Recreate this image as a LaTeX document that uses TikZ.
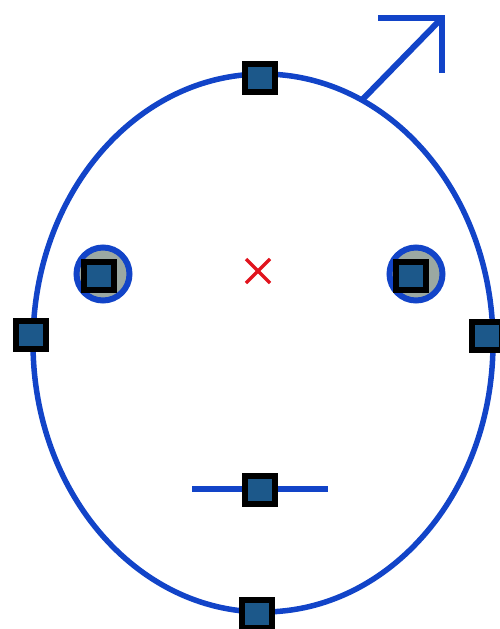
\documentclass[tikz,border=0pt]{standalone}
\usetikzlibrary{calc}
\begin{document}
\begin{tikzpicture}[x=1pt,y=-1pt,
  blueline/.style={draw=headblue,line width=5.5pt},
  marker/.style={rectangle,draw=black,fill=markfill,line width=6pt,minimum width=30pt,minimum height=28pt,inner sep=0pt},
  eyering/.style={circle,draw=headblue,fill=eyegrey,line width=6pt,minimum size=53pt,inner sep=0pt}]
\definecolor{headblue}{RGB}{18,68,200}
\definecolor{markfill}{RGB}{28,88,138}
\definecolor{eyegrey}{RGB}{155,168,162}
\definecolor{crossred}{RGB}{225,20,30}
\useasboundingbox (0,0) rectangle (499,629);
% head outline
\draw[blueline] (263,343) ellipse [x radius=230, y radius=269];
% male symbol
\coordinate (mstart) at (362,100);
\coordinate (mtip) at (442,18);
\coordinate (mleft) at (378,18);
\coordinate (mdown) at (442,73);
\draw[draw=headblue,line width=6pt] (mstart) -- (mtip);
\draw[draw=headblue,line width=6pt] (mleft) -- (mtip) -- (mdown);
% mouth
\coordinate (mouthL) at (192,489);
\coordinate (mouthR) at (328,489);
\draw[draw=headblue,line width=5.5pt] (mouthL) -- (mouthR);
% eyes
\node[eyering] (eyeL) at (103,274) {};
\node[eyering] (eyeR) at (416,274) {};
\node[marker] (eyeLm) at (99,276) {};
\node[marker] (eyeRm) at (411,276) {};
% markers on outline
\node[marker] (top) at (260,78) {};
\node[marker] (left) at (31,335) {};
\node[marker] (right) at (487,336) {};
\node[marker] (bottom) at (257,614) {};
\node[marker] (mouth) at (260,490) {};
% centre cross
\coordinate (cross) at (258,271);
\draw[draw=crossred,line width=3.5pt] ($(cross)+(-12,-12)$) -- ($(cross)+(12,12)$);
\draw[draw=crossred,line width=3.5pt] ($(cross)+(-12,12)$) -- ($(cross)+(12,-12)$);
\end{tikzpicture}
\end{document}
